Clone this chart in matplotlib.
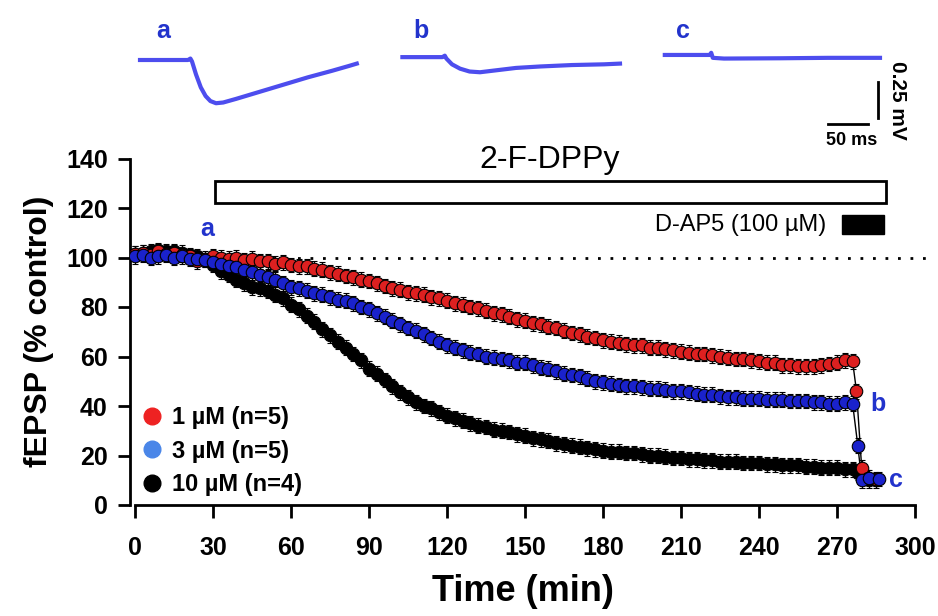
import matplotlib.pyplot as plt
from matplotlib.patches import Rectangle
from matplotlib.lines import Line2D
import numpy as np

plt.rcParams['font.family'] = ['Liberation Sans', 'DejaVu Sans']

# tiempo (min) cada 3 min hasta 276, luego los puntos tras D-AP5
time = np.arange(0, 277, 3)

red_vals = [101.5, 102, 101, 102.5, 101.5, 102, 101, 100.5, 98.5, 99.5,
            100.5, 100, 99.5, 100, 99, 99.5, 98.5, 98.5, 97.5, 98,
            97, 96.5, 96.5, 95.5, 95, 94, 93.5, 92.5, 92, 91,
            90.5, 89.5, 88.5, 87.5, 87, 86, 85.5, 85, 84, 83.5,
            82.5, 81.5, 81, 80, 79.5, 78.5, 77.5, 77, 76, 75,
            74.5, 73.5, 73, 72, 71.5, 70.5, 69.5, 69, 68, 67.5,
            66.5, 66, 65.5, 65, 64.5, 64.5, 63.5, 63.5, 63, 62.5,
            62, 61.5, 61, 61, 60.5, 60, 59.5, 59, 59, 58.5,
            58, 57.5, 57.5, 56.5, 56.5, 56, 56, 56, 56.5, 57,
            57.5, 58.5, 58]
blue_vals = [100.5, 101, 100, 100.5, 101, 100, 100.5, 99.5, 99.5, 99,
             98, 97.5, 96.5, 96, 95, 94, 93, 92, 91, 89.5,
             88, 87.5, 86.5, 85.5, 85, 84, 83, 82.5, 81.5, 80,
             79, 77.5, 76, 74.5, 73, 71.5, 70.5, 69, 67.5, 66,
             64.5, 63.5, 62.5, 61.5, 61, 60, 59.5, 59, 58.5, 57.5,
             57.5, 56.5, 55.5, 55, 54, 53, 52.5, 52, 51, 50,
             49.5, 49, 48.5, 48, 48, 47.5, 47, 47, 46.5, 46,
             46, 45.5, 45, 44.5, 44.5, 44, 43.5, 43.5, 43, 43,
             43, 42.5, 42.5, 42.5, 42, 42, 42, 41.5, 41.5, 41,
             41, 41.5, 41]
black_vals = [101.5, 102, 102.5, 103, 102.5, 102.5, 102, 101, 100.5, 99,
              97, 94.5, 93, 91, 89.5, 88, 87.5, 86.5, 85, 83.5,
              81, 79, 76.5, 74, 71, 68.5, 66, 63.5, 61, 58.5,
              55, 53, 50.5, 48, 45.5, 43.5, 41.5, 40, 39, 37.5,
              36, 35, 34, 33, 32, 31.5, 30.5, 30, 29.5, 28.5,
              28, 27, 26.5, 26, 25, 24.5, 24, 23.5, 23, 22.5,
              22, 21.5, 21.5, 21, 21, 20.5, 20, 20, 19.5, 19,
              19, 18.5, 18.5, 18, 18, 17.5, 17.5, 17.5, 17, 17,
              17, 16.5, 16.5, 16, 16, 16, 15.5, 15.5, 15, 15,
              15, 14.5, 14.5]

# puntos con D-AP5
red_post_t = [277.5, 279.5, 282, 285]
red_post = [46, 15, 11, 10.5]
blue_post_t = [278, 279.5, 282.5, 286]
blue_post = [24, 10, 11, 10.5]
black_post_t = [278, 280, 282.5, 285]
black_post = [13, 11, 10, 10]

red_sem = 3
blue_sem = 3
black_sem = 3

labels = ['1 \u00b5M (n=5)', '3 \u00b5M (n=5)', '10 \u00b5M (n=4)']

# trazos ejemplo (ms, mV)
trace_a_t = [0, 60, 63, 65, 70, 76, 82, 88, 95, 104, 120, 150, 180, 210, 240, 262, 271]
trace_a_v = [0, 0, 0.01, -0.01, -0.10, -0.19, -0.25, -0.285, -0.30, -0.295, -0.27, -0.22, -0.17, -0.12, -0.075, -0.04, -0.025]
trace_b_t = [328, 378, 381, 383, 390, 400, 412, 425, 440, 470, 500, 540, 580, 600]
trace_b_v = [0.02, 0.02, 0.03, 0.01, -0.03, -0.06, -0.08, -0.085, -0.075, -0.055, -0.045, -0.035, -0.03, -0.025]
trace_c_t = [656, 712, 714, 716, 730, 800, 860, 925]
trace_c_v = [0.035, 0.035, 0.05, 0.015, 0.01, 0.012, 0.015, 0.015]

fig = plt.figure(figsize=(9.38, 6.16), dpi=100)
W, H = 938, 616
ax = fig.add_axes([130 / W, 1 - 505 / H, 785 / W, 346.5 / H])

ax.plot([0, 305], [100, 100], color='k', lw=2, linestyle=(0, (1, 3.5)), clip_on=False)

series = [
    (black_vals, black_post_t, black_post, black_sem, 'black'),
    (red_vals, red_post_t, red_post, red_sem, '#dd2020'),
    (blue_vals, blue_post_t, blue_post, blue_sem, '#1a22cc'),
]
for vals, pt, pv, sem, col in series:
    tt = list(time) + pt
    vv = vals + pv
    ax.plot(tt, vv, color='k', lw=1, zorder=2)
    ax.errorbar(tt, vv, yerr=sem, fmt='o', color=col, mec='k', mew=0.8, ms=9,
                ecolor='k', elinewidth=0.8, capsize=2, capthick=0.8, zorder=3)

# barras de tratamiento
ax.add_patch(Rectangle((30.8, 122), 258.2, 9, facecolor='white', edgecolor='k', lw=2, clip_on=False))
ax.add_patch(Rectangle((272, 109.3), 16, 7.8, facecolor='black', edgecolor='k', lw=1, clip_on=False))
ax.text(159.6, 133.3, '2-F-DPPy', ha='center', va='bottom', fontsize=23)
ax.text(266, 113.2, 'D-AP5 (100 \u00b5M)', ha='right', va='center', fontsize=17)

ax.text(27.7, 106.5, 'a', color='#2233cc', fontsize=18, fontweight='bold', ha='center', va='bottom')
ax.text(283, 41, 'b', color='#2233cc', fontsize=18, fontweight='bold', ha='left', va='center')
ax.text(290, 10, 'c', color='#2233cc', fontsize=18, fontweight='bold', ha='left', va='center')

handles = [Line2D([], [], marker='o', ls='', color=c, ms=12)
           for c in ['#ee2222', '#4a86e8', 'black']]
ax.legend(handles, labels, loc='lower left', bbox_to_anchor=(-0.002, -0.016), frameon=False,
          prop=dict(weight='bold', size=17), handlelength=0.8, handletextpad=0.45,
          labelspacing=0.45, borderaxespad=0.2)

ax.set_xlim(-1.92, 300)
ax.set_ylim(0, 140)
ax.set_xticks(range(0, 301, 30))
ax.set_yticks(range(0, 141, 20))
ax.spines['top'].set_visible(False)
ax.spines['right'].set_visible(False)
ax.spines['bottom'].set_bounds(0, 300)
for s in ['left', 'bottom']:
    ax.spines[s].set_linewidth(2)
ax.tick_params(length=9, width=2)
ax.tick_params(axis='x', pad=13)
ax.tick_params(axis='y', pad=7)
for lab in ax.get_xticklabels() + ax.get_yticklabels():
    lab.set_fontweight('bold')
    lab.set_fontsize(18)
ax.set_xlabel('Time (min)', fontsize=26, fontweight='bold')
ax.set_ylabel('fEPSP (% control)', fontsize=23, fontweight='bold')
ax.xaxis.set_label_coords(0.5, -0.2)
ax.yaxis.set_label_coords(-0.097, 0.5)

# trazos arriba
tax = fig.add_axes([130 / W, 1 - 160 / H, 800 / W, 150 / H])
tax.set_xlim(-12.5, 987.5)
tax.set_ylim(-0.694, 0.347)
tax.axis('off')
tcol = '#4d4dee'
for tt, vv in [(trace_a_t, trace_a_v), (trace_b_t, trace_b_v), (trace_c_t, trace_c_v)]:
    tax.plot(tt, vv, color=tcol, lw=3)
tax.text(29, 0.12, 'a', color='#2233cc', fontsize=18, fontweight='bold', ha='center', va='bottom')
tax.text(351, 0.12, 'b', color='#2233cc', fontsize=18, fontweight='bold', ha='center', va='bottom')
tax.text(679, 0.12, 'c', color='#2233cc', fontsize=18, fontweight='bold', ha='center', va='bottom')
# barra de escala
tax.plot([922.5, 922.5], [-0.153, -0.403], color='k', lw=2)
tax.plot([860, 910], [-0.444, -0.444], color='k', lw=2)
tax.text(890, -0.5, '50 ms', ha='center', va='top', fontsize=13, fontweight='bold')
tax.text(947, -0.278, '0.25 mV', ha='center', va='center', rotation=-90, fontsize=15, fontweight='bold')

fig.savefig('out.png', dpi=100)
